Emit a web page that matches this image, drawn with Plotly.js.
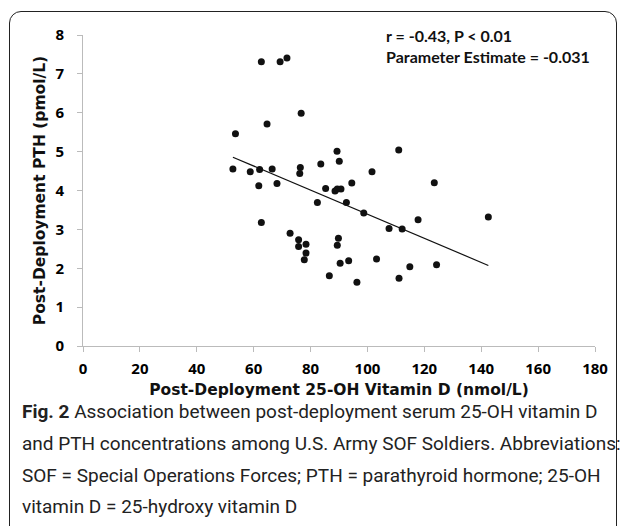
<!DOCTYPE html>
<html>
<head>
<meta charset="utf-8">
<script src="https://cdn.plot.ly/plotly-3.0.1.min.js"></script>
<style>
  html, body { margin: 0; padding: 0; background: #fff; }
  #wrap { position: relative; width: 627px; height: 526px; overflow: hidden; }
  #frame { position: absolute; left: 9px; top: 11px; width: 608px; height: 540px;
           border: 1.5px solid #222; border-radius: 12px; box-sizing: border-box; }
  #chart { position: absolute; left: 0; top: 0; width: 627px; height: 526px; }
</style>
</head>
<body>
<div id="wrap">
  <div id="chart"></div>
  <div id="frame"></div>
</div>
<script>
// Post-deployment 25-OH vitamin D (nmol/L)
var vitD = [52.7, 53.6, 58.8, 61.8, 62.1, 62.7, 62.7, 64.7, 66.5, 68.2,
            69.3, 71.7, 72.8, 75.8, 75.8, 76.2, 76.4, 76.7, 77.8, 78.4,
            78.4, 82.4, 83.6, 85.3, 86.6, 88.6, 89.3, 89.4, 89.4, 89.8,
            90.1, 90.4, 90.7, 92.6, 93.4, 94.5, 96.3, 98.7, 101.6, 103.2,
            107.6, 111.0, 111.1, 112.2, 114.9, 117.8, 123.5, 124.3, 142.5];
// Post-deployment PTH (pmol/L)
var pth  = [4.55, 5.46, 4.48, 4.12, 4.54, 7.31, 3.18, 5.71, 4.55, 4.18,
            7.31, 7.41, 2.90, 2.73, 2.56, 4.44, 4.59, 5.99, 2.22, 2.62,
            2.39, 3.69, 4.68, 4.05, 1.81, 3.99, 5.01, 4.04, 2.59, 2.77,
            4.75, 2.13, 4.04, 3.69, 2.19, 4.19, 1.64, 3.42, 4.48, 2.24,
            3.02, 5.04, 1.74, 3.01, 2.04, 3.25, 4.20, 2.09, 3.32];

// Linear fit
var fitSlope = -0.031;
var fitIntercept = 6.49;

var xTicks = [0, 20, 40, 60, 80, 100, 120, 140, 160, 180];
var yTicks = [0, 1, 2, 3, 4, 5, 6, 7, 8];

var statsLine1 = "r = -0.43, P < 0.01";
var statsLine2 = "Parameter Estimate = -0.031";

var captionLines = [
  "<b>Fig. 2</b> Association between post-deployment serum 25-OH vitamin D",
  "and PTH concentrations among U.S. Army SOF Soldiers. Abbreviations:",
  "SOF = Special Operations Forces; PTH = parathyroid hormone; 25-OH",
  "vitamin D = 25-hydroxy vitamin D"
];

var xMin = Math.min.apply(null, vitD);
var xMax = Math.max.apply(null, vitD);
var fitX = [xMin, xMax];
var fitY = fitX.map(function (v) { return fitIntercept + fitSlope * v; });

var W = 627, H = 526;
var mL = 83, mR = 32, mT = 35, mB = 180;
var plotH = H - mT - mB;
var plotW = W - mL - mR;
function py(px) { return (H - mB - px) / plotH; }
function pxx(px) { return (px - mL) / plotW; }

var tickFont = { family: "'Open Sans', sans-serif", size: 15, color: "#000", weight: 700 };
var titleFont = { family: "'DejaVu Sans', sans-serif", size: 15.5, color: "#111", weight: 700 };

var traces = [
  {
    x: vitD, y: pth, type: "scatter", mode: "markers",
    marker: { color: "#111", size: 7, line: { width: 0 } },
    hoverinfo: "x+y", showlegend: false
  },
  {
    x: fitX, y: fitY, type: "scatter", mode: "lines",
    line: { color: "#111", width: 1.2 },
    hoverinfo: "skip", showlegend: false
  }
];

var annotations = [
  { text: "<b>" + statsLine1 + "</b>", xref: "paper", yref: "paper",
    x: pxx(384), y: py(36), xanchor: "left", yanchor: "middle", showarrow: false,
    font: { family: "Lato, sans-serif", size: 16, color: "#111" } },
  { text: "<b>" + statsLine2 + "</b>", xref: "paper", yref: "paper",
    x: pxx(384), y: py(56), xanchor: "left", yanchor: "middle", showarrow: false,
    font: { family: "Lato, sans-serif", size: 16, color: "#111" } }
];
var capY = [411, 443, 475, 506];
captionLines.forEach(function (t, i) {
  annotations.push({
    text: t, xref: "paper", yref: "paper",
    x: pxx(20), y: py(capY[i]), xanchor: "left", yanchor: "middle", showarrow: false,
    font: { family: "Roboto, 'Open Sans', sans-serif", size: 19, color: "#222" }
  });
});

var layout = {
  width: W, height: H,
  margin: { l: mL, r: mR, t: mT, b: mB, pad: 0 },
  paper_bgcolor: "rgba(0,0,0,0)", plot_bgcolor: "rgba(0,0,0,0)",
  showlegend: false,
  xaxis: {
    range: [0, 180], tickvals: xTicks, ticktext: xTicks.map(String),
    showgrid: false, zeroline: false, showline: true, linecolor: "#bbb", linewidth: 1,
    ticks: "outside", ticklen: 5, tickcolor: "#bbb", tickfont: tickFont,
    ticklabelstandoff: 4,
    title: { text: "Post-Deployment 25-OH Vitamin D (nmol/L)", font: titleFont, standoff: 7 }
  },
  yaxis: {
    range: [0, 8], tickvals: yTicks, ticktext: yTicks.map(String),
    showgrid: false, zeroline: false, showline: true, linecolor: "#bbb", linewidth: 1,
    ticks: "outside", ticklen: 5, tickcolor: "#bbb", tickfont: tickFont,
    ticklabelstandoff: 10,
    title: { text: "Post-Deployment PTH (pmol/L)", font: titleFont, standoff: 5 }
  },
  annotations: annotations
};

Plotly.newPlot("chart", traces, layout, { displayModeBar: false, staticPlot: true });
</script>
</body>
</html>
